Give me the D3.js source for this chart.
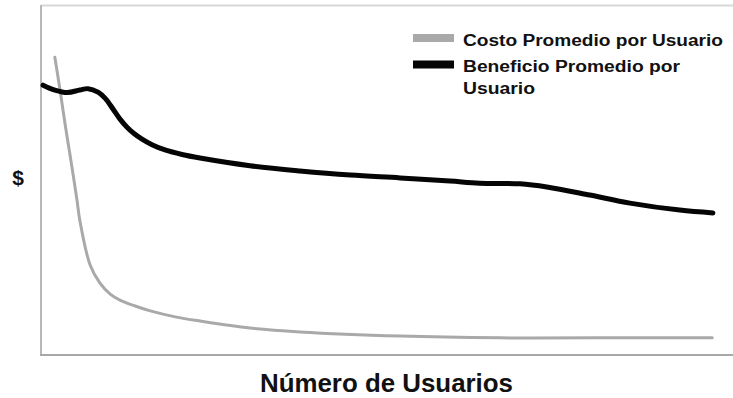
<!DOCTYPE html>
<html>
<head>
<meta charset="utf-8">
<script src="https://cdn.jsdelivr.net/npm/d3@7"></script>
<style>
  html, body { margin: 0; padding: 0; background: #fff; }
  svg { display: block; }
  text { font-family: "Liberation Sans", Arial, Helvetica, sans-serif; font-weight: bold; fill: #111; }
</style>
</head>
<body>
<svg id="chart" width="733" height="398"></svg>
<script>
// Número de usuarios (relative units)
const users = {
  beneficio: [3, 20, 38, 56, 68, 82.4, 92.5, 104, 114.2, 124.3, 134.4, 146, 160.4, 179.2, 203.8, 229.8, 302, 374, 447, 519, 591, 634, 692, 731, 793, 851, 923, 971],
  costo: [20, 27.5, 35, 42, 52, 56, 71, 85, 100, 114, 136, 158, 194, 230, 302, 374, 519, 663, 808, 970]
};
// Average benefit per user ($, relative)
const beneficioPromedio = [77.1, 75.7, 75, 75.7, 76.1, 75.1, 73.4, 70.3, 67.4, 65.1, 63.3, 61.7, 60.1, 58.6, 57.3, 56.3, 54.1, 52.6, 51.4, 50.6, 49.7, 49.1, 48.9, 48, 45.7, 43.4, 41.4, 40.6];
// Average cost per user ($, relative)
const costoPromedio = [85.1, 75.7, 65.7, 57.1, 44.3, 38.6, 25.7, 20.6, 17.4, 15.7, 14, 12.6, 10.9, 9.7, 7.7, 6.6, 5.4, 4.9, 4.9, 4.9];

const seriesNames = ["Costo Promedio por Usuario", "Beneficio Promedio por Usuario"];
const xTitle = "Número de Usuarios";
const yTitle = "$";

const svg = d3.select("#chart");
const m = { left: 41, right: 733, top: 5, bottom: 355 };

const x = d3.scaleLinear().domain([0, 1000]).range([m.left, m.right]);
const y = d3.scaleLinear().domain([0, 100]).range([m.bottom, m.top]);

// frame: top border, left axis, bottom axis
svg.append("line").attr("x1", m.left).attr("x2", m.right).attr("y1", m.top + 0.5).attr("y2", m.top + 0.5)
  .attr("stroke", "#d8d8d8").attr("stroke-width", 2);
svg.append("line").attr("x1", m.left).attr("x2", m.left).attr("y1", m.top).attr("y2", m.bottom)
  .attr("stroke", "#b8b8b8").attr("stroke-width", 2);
svg.append("line").attr("x1", m.left - 1).attr("x2", m.right).attr("y1", m.bottom).attr("y2", m.bottom)
  .attr("stroke", "#a8a8a8").attr("stroke-width", 2);

const line = d3.line().x(d => x(d[0])).y(d => y(d[1])).curve(d3.curveCatmullRom.alpha(0.5));

const costData = users.costo.map((u, i) => [u, costoPromedio[i]]);
const benData = users.beneficio.map((u, i) => [u, beneficioPromedio[i]]);

svg.append("path").datum(costData).attr("d", line)
  .attr("fill", "none").attr("stroke", "#a9a9a9").attr("stroke-width", 3).attr("stroke-linecap", "round");
svg.append("path").datum(benData).attr("d", line)
  .attr("fill", "none").attr("stroke", "#050505").attr("stroke-width", 5).attr("stroke-linecap", "round");

// legend
const lg = svg.append("g");
lg.append("rect").attr("x", 413).attr("y", 34).attr("width", 41).attr("height", 8).attr("fill", "#a9a9a9");
lg.append("text").attr("x", 463).attr("y", 45.5).attr("font-size", 16)
  .attr("textLength", 260).attr("lengthAdjust", "spacingAndGlyphs").text(seriesNames[0]);
lg.append("rect").attr("x", 413).attr("y", 60.5).attr("width", 41).attr("height", 8).attr("fill", "#050505");
lg.append("text").attr("x", 463).attr("y", 71.5).attr("font-size", 16)
  .attr("textLength", 217).attr("lengthAdjust", "spacingAndGlyphs").text("Beneficio Promedio por");
lg.append("text").attr("x", 463).attr("y", 93.5).attr("font-size", 16)
  .attr("textLength", 72).attr("lengthAdjust", "spacingAndGlyphs").text("Usuario");

// axis titles
svg.append("text").attr("x", 18).attr("y", 185).attr("text-anchor", "middle").attr("font-size", 21).text(yTitle);
svg.append("text").attr("x", 260).attr("y", 392).attr("font-size", 25.5)
  .attr("textLength", 253).attr("lengthAdjust", "spacingAndGlyphs").text(xTitle);
</script>
</body>
</html>
